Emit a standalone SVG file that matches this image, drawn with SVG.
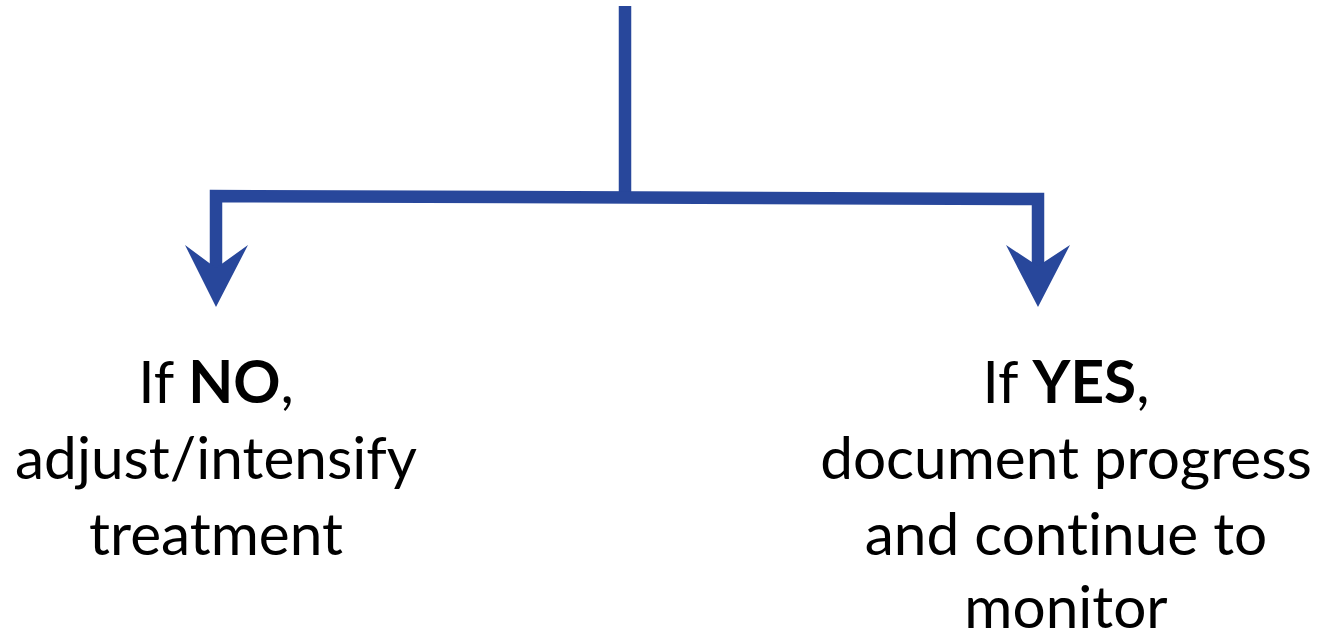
<svg xmlns="http://www.w3.org/2000/svg" width="1324" height="635" viewBox="0 0 1324 635">
<style>
.ln{fill:none;stroke:#28479B;stroke-width:12.5;stroke-linejoin:miter;stroke-linecap:butt}
.hd{fill:#28479B}
.t{font-family:Lato,"Open Sans","Liberation Sans",sans-serif;font-size:58.5px;fill:#000;text-anchor:middle;font-variant-ligatures:none}
.b{font-weight:bold}
</style>
<rect width="1324" height="635" fill="#fff"/>
<g id="connectors">
<path class="ln" d="M625 6 V197"/>
<path class="ln" d="M216 272 V196 L1038 199 V270"/>
<polygon class="hd" points="185,245 216,268 248,245 216,307"/>
<polygon class="hd" points="1006,245 1038,266 1070,245 1038,307"/>
</g>
<g id="node-no">
<text class="t" x="216" y="403">If <tspan class="b">NO</tspan>,</text>
<text class="t" x="216" y="479">adjust/intensify</text>
<text class="t" x="216" y="555">treatment</text>
</g>
<g id="node-yes">
<text class="t" x="1066" y="403">If <tspan class="b">YES</tspan>,</text>
<text class="t" x="1066" y="479">document progress</text>
<text class="t" x="1066" y="555">and continue to</text>
<text class="t" x="1066" y="628">monitor</text>
</g>
</svg>
